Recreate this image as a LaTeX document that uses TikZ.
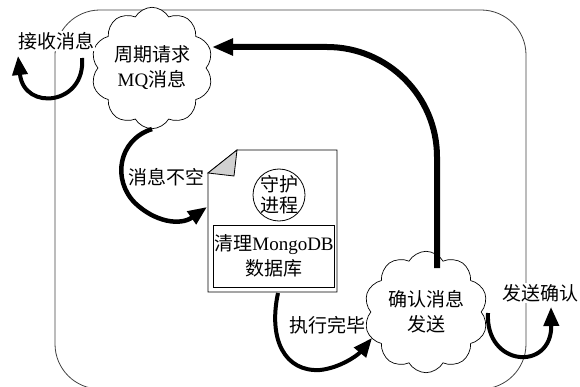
\documentclass[tikz,border=0pt]{standalone}
\usepackage{fontspec}
\setmainfont{Noto Sans CJK SC}
\newfontfamily\lat{Liberation Serif}
\usetikzlibrary{shapes.symbols,arrows.meta}
\tikzset{
  txt/.style={font=\fontsize{19}{25}\selectfont, align=center, inner sep=1pt},
  lbl/.style={txt, fill=white},
  frame/.style={draw=black!75, line width=0.8pt, rounded corners=45pt},
  cloudbox/.style={cloud, cloud puffs=10, cloud puff arc=120, draw, line width=0.7pt, fill=white,
     txt, inner sep=0pt},
  thin/.style={draw, line width=0.8pt},
  bigarrow/.style={line width=6pt, -{Triangle[length=21pt,width=16pt]}},
  curvearrow/.style={line width=4pt, -{Triangle[length=19pt,width=15pt]}}
}
\begin{document}
\begin{tikzpicture}[x=1pt,y=-1pt]
\useasboundingbox (0,0) rectangle (580,387);
% outer frame
\draw[frame] (55,10) rectangle (526,389);

% clouds
\node[cloudbox, minimum width=122pt, minimum height=84pt] (c1) at (152,68) {周期请求\\{\lat MQ}消息};
\node[cloudbox, minimum width=124pt, minimum height=90pt] (c2) at (426,312) {确认消息\\发送};

% document
\path[thin, fill=white] (237,150) -- (337,150) -- (337,292) -- (208,292) -- (208,173) -- cycle;
\path[thin, fill=black!18] (237,150) -- (208,173) -- (234,176) -- cycle;
\coordinate (docs) at (278,293);
\coordinate (docw) at (207,207);
\node[circle, thin, minimum size=52pt, inner sep=0pt] (guard) at (279,195) {};
\node[font=\fontsize{19}{21}\selectfont, align=center, inner sep=0pt] (guardt) at (guard.center) {守护\\进程};
\node[thin, txt, minimum width=120pt, minimum height=62pt] (clean) at (274,256) {清理{\lat MongoDB}\\数据库};

% labels
\node[lbl] (recv) at (56,41) {接收消息};
\node[lbl] (nonempty) at (166,177) {消息不空};
\node[lbl] (done) at (327,325) {执行完毕};
\node[lbl] (sendack) at (540,293) {发送确认};

% arrows
\coordinate (mtop) at (437,268);
\coordinate (mend) at (212,47);
\draw[bigarrow, rounded corners=110pt] (mtop) -- (mtop |- mend) -- (mend);

\coordinate (rs) at (82,58);
\coordinate (rt) at (18,56);
\draw[curvearrow] (rs) .. controls (86,105) and (24,112) .. (rt);

\draw[curvearrow, line width=4.5pt] (c1.south) .. controls (118,140) and (112,180) .. (135,203)
   .. controls (155,222) and (180,226) .. (docw);

\coordinate (dt) at (372,338);
\draw[curvearrow] (docs) .. controls (268,340) and (285,372) .. (320,370)
   .. controls (340,368) and (358,355) .. (dt);

\coordinate (ss) at (488,313);
\coordinate (st) at (551,307);
\draw[curvearrow] (ss) .. controls (485,367) and (552,372) .. (st);
\end{tikzpicture}
\end{document}
